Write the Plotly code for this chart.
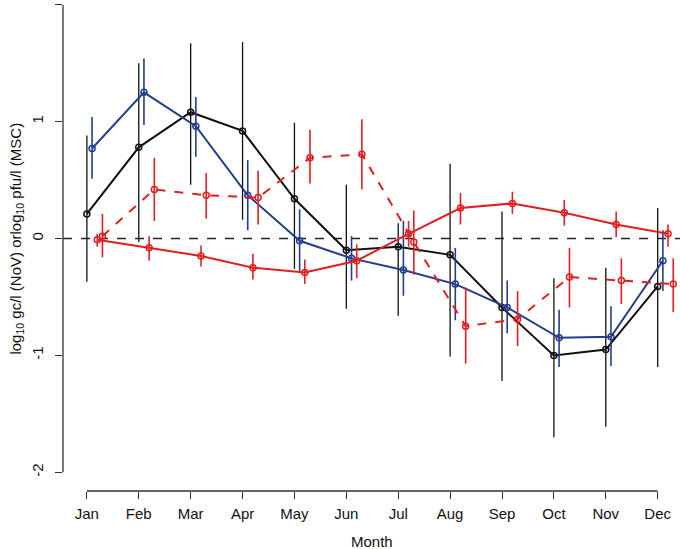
import plotly.graph_objects as go

months = ["Jan", "Feb", "Mar", "Apr", "May", "Jun", "Jul", "Aug", "Sep", "Oct", "Nov", "Dec"]

# Black series (NoV)
black_mean = [0.21, 0.78, 1.08, 0.92, 0.34, -0.10, -0.07, -0.14, -0.59, -1.00, -0.95, -0.41]
black_hi = [0.88, 1.50, 1.67, 1.68, 0.99, 0.46, 0.13, 0.64, 0.23, -0.34, -0.25, 0.26]
black_lo = [-0.37, -0.03, 0.46, 0.16, -0.26, -0.60, -0.66, -1.01, -1.22, -1.70, -1.61, -1.10]

# Blue series
blue_mean = [0.77, 1.25, 0.96, 0.37, -0.02, -0.17, -0.27, -0.39, -0.59, -0.85, -0.84, -0.19]
blue_hi = [1.04, 1.54, 1.21, 0.67, 0.25, 0.02, 0.15, -0.08, -0.36, -0.61, -0.58, 0.07]
blue_lo = [0.51, 0.97, 0.70, 0.07, -0.28, -0.36, -0.49, -0.70, -0.81, -1.10, -1.09, -0.45]

# Red solid series
reds_mean = [-0.01, -0.08, -0.15, -0.25, -0.29, -0.19, 0.04, 0.26, 0.30, 0.22, 0.12, 0.04]
reds_hi = [0.04, 0.02, -0.06, -0.13, -0.18, -0.05, 0.15, 0.39, 0.40, 0.33, 0.23, 0.12]
reds_lo = [-0.07, -0.19, -0.24, -0.35, -0.39, -0.34, -0.07, 0.12, 0.21, 0.11, 0.01, -0.07]

# Red dashed series
redd_mean = [0.02, 0.42, 0.37, 0.35, 0.69, 0.72, -0.03, -0.75, -0.69, -0.33, -0.36, -0.39]
redd_hi = [0.21, 0.69, 0.56, 0.58, 0.93, 1.02, 0.24, -0.42, -0.45, -0.08, -0.17, -0.17]
redd_lo = [-0.16, 0.15, 0.17, 0.12, 0.47, 0.42, -0.31, -1.07, -0.92, -0.59, -0.56, -0.63]

BLACK = "#111111"
BLUE = "#233d8f"
RED = "#e01f22"

series = [
    (black_mean, black_hi, black_lo, 0.0, BLACK, "solid", 1.3),
    (blue_mean, blue_hi, blue_lo, 0.1, BLUE, "solid", 1.6),
    (reds_mean, reds_hi, reds_lo, 0.2, RED, "solid", 1.6),
    (redd_mean, redd_hi, redd_lo, 0.3, RED, "dash", 1.6),
]

fig = go.Figure()
for mean, hi, lo, off, col, dash, ebw in series:
    x = [i + 1 + off for i in range(len(months))]
    fig.add_trace(go.Scatter(
        x=x, y=mean, mode="lines+markers",
        line=dict(color=col, width=2, dash=dash),
        marker=dict(symbol="circle-open", size=6, color=col, line=dict(width=1.5, color=col)),
        error_y=dict(type="data", symmetric=False,
                     array=[h - m for h, m in zip(hi, mean)],
                     arrayminus=[m - l for m, l in zip(mean, lo)],
                     color=col, thickness=ebw, width=0),
        showlegend=False, hoverinfo="skip",
    ))

fig.add_shape(type="line", xref="paper", yref="y", x0=0, x1=1, y0=0, y1=0,
              line=dict(color="#222222", width=1.5, dash="dash"), layer="below")
fig.add_shape(type="line", xref="x", yref="paper", x0=1, x1=12, y0=0, y1=0,
              line=dict(color="#333333", width=1.3))
fig.add_shape(type="line", xref="paper", yref="y", x0=0, x1=0, y0=-2, y1=2,
              line=dict(color="#333333", width=1.3))

fig.add_annotation(xref="paper", yref="y", x=-0.076, y=0, xanchor="center", yanchor="middle",
                   text="log<sub>10</sub> gc/l (NoV) orlog<sub>10</sub> pfu/l (MSC)",
                   textangle=-90, showarrow=False, font=dict(size=15, color="#111111"))
fig.add_annotation(xref="x", yref="paper", x=6.5, y=-0.1, xanchor="center", yanchor="middle",
                   yshift=-1, text="Month", showarrow=False, font=dict(size=15, color="#111111"))

fig.update_layout(
    width=680, height=549,
    margin=dict(l=63, r=0, t=0, b=58),
    paper_bgcolor="white", plot_bgcolor="white",
    font=dict(family="Liberation Sans, Arial, sans-serif", size=15, color="#111111"),
    xaxis=dict(range=[0.54, 12.43], tickvals=list(range(1, 13)), ticktext=months,
               ticks="outside", ticklen=7, tickcolor="#333333", tickwidth=1.3,
               showline=False, showgrid=False, zeroline=False, automargin=False,
               ticklabelstandoff=2),
    yaxis=dict(range=[-2.16, 2.04], tickvals=[-2, -1, 0, 1, 2], ticktext=["-2", "-1", "0", "1", "2"],
               ticks="outside", ticklen=7, tickcolor="#333333", tickwidth=1.3, tickangle=-90,
               showline=False, showgrid=False, zeroline=False, automargin=False,
               ticklabelstandoff=6),
)

fig.write_html("out.html", config={"displayModeBar": False},
               post_script="document.body.style.margin='0';document.body.style.overflow='hidden';")
